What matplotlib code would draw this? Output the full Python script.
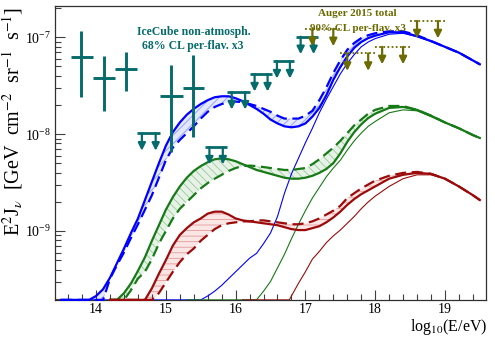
import numpy as np
import matplotlib
matplotlib.use('Agg')
import matplotlib.pyplot as plt
from matplotlib.ticker import MultipleLocator, FixedLocator, LogLocator, NullFormatter

plt.rcParams['font.family'] = 'Liberation Serif'
plt.rcParams['mathtext.fontset'] = 'stix'
plt.rcParams['hatch.linewidth'] = 0.6

#%% data (log10 E/eV, log10 flux)

FLOOR = -9.71

blue_x = [13.5, 13.9, 14.0, 14.1, 14.2, 14.3, 14.4, 14.5, 14.6, 14.7, 14.8, 14.9, 15.0, 15.1, 15.2,
          15.3, 15.4, 15.5, 15.6, 15.7, 15.8, 15.9, 16.0, 16.1, 16.2, 16.3, 16.4, 16.5, 16.6, 16.7,
          16.8, 16.9, 17.0, 17.1, 17.2, 17.3, 17.4, 17.5, 17.6, 17.7, 17.8, 17.9, 18.0, 18.2, 18.4,
          18.6, 18.8, 19.0, 19.2, 19.4, 19.5]
blue_solid = [-9.71, -9.71, -9.67, -9.60, -9.48, -9.33, -9.18, -9.02, -8.87, -8.68, -8.49, -8.30,
              -8.12, -7.98, -7.88, -7.80, -7.74, -7.69, -7.65, -7.62, -7.61, -7.61, -7.63, -7.66,
              -7.70, -7.74, -7.79, -7.85, -7.89, -7.92, -7.93, -7.92, -7.89, -7.82, -7.73, -7.60,
              -7.44, -7.31, -7.20, -7.11, -7.05, -7.01, -6.985, -6.95, -6.95, -6.99, -7.04, -7.10,
              -7.16, -7.24, -7.28]
blue_dash = [-9.71, -9.71, -9.71, -9.71, -9.49, -9.35, -9.22, -9.07, -8.93, -8.78, -8.63, -8.45,
             -8.27, -8.14, -8.06, -7.99, -7.92, -7.84, -7.77, -7.72, -7.69, -7.67, -7.665, -7.67,
             -7.69, -7.71, -7.74, -7.77, -7.81, -7.84, -7.84, -7.84, -7.81, -7.76, -7.65, -7.52,
             -7.37, -7.24, -7.13, -7.06, -7.01, -6.98, -6.96, -6.94, -6.94, -6.98, -7.04, -7.10,
             -7.16, -7.24, -7.28]
blue_thin_x = [13.5, 15.5, 15.6, 15.7, 15.8, 15.9, 16.0, 16.1, 16.2, 16.3, 16.4, 16.5, 16.6, 16.7,
               16.8, 16.9, 17.0, 17.1, 17.2, 17.3, 17.4, 17.5, 17.6, 17.7, 17.8, 17.9, 18.0, 18.2,
               18.4, 18.6, 18.8, 19.0, 19.2, 19.4, 19.5]
blue_thin = [-9.71, -9.71, -9.67, -9.62, -9.56, -9.49, -9.42, -9.35, -9.28, -9.23, -9.13, -9.02,
             -8.85, -8.61, -8.41, -8.25, -8.09, -7.94, -7.78, -7.64, -7.51, -7.38, -7.27, -7.18,
             -7.10, -7.05, -7.015, -6.97, -6.96, -6.995, -7.045, -7.10, -7.16, -7.24, -7.28]

green_x = [14.2, 14.3, 14.4, 14.5, 14.6, 14.7, 14.8, 14.9, 15.0, 15.1, 15.2, 15.3, 15.4, 15.5,
           15.6, 15.7, 15.8, 15.9, 16.0, 16.1, 16.2, 16.3, 16.4, 16.5, 16.6, 16.7, 16.8, 16.9,
           17.0, 17.1, 17.2, 17.3, 17.4, 17.5, 17.6, 17.7, 17.8, 17.9, 18.0, 18.2, 18.4, 18.6,
           18.8, 19.0, 19.2, 19.4, 19.5]
green_solid = [-9.71, -9.71, -9.64, -9.54, -9.41, -9.27, -9.10, -8.94, -8.78, -8.65, -8.54, -8.45,
               -8.38, -8.33, -8.29, -8.26, -8.25, -8.26, -8.28, -8.31, -8.34, -8.37, -8.39, -8.41,
               -8.43, -8.45, -8.46, -8.46, -8.45, -8.43, -8.40, -8.36, -8.30, -8.20, -8.08, -7.98,
               -7.90, -7.835, -7.79, -7.73, -7.72, -7.75, -7.81, -7.88, -7.94, -8.01, -8.04]
green_dash = [-9.71, -9.71, -9.71, -9.61, -9.49, -9.42, -9.29, -9.13, -9.00, -8.87, -8.77, -8.70,
              -8.63, -8.56, -8.505, -8.46, -8.42, -8.38, -8.35, -8.33, -8.325, -8.33, -8.34, -8.35,
              -8.36, -8.37, -8.37, -8.36, -8.35, -8.31, -8.26, -8.20, -8.14, -8.07, -7.99, -7.91,
              -7.85, -7.79, -7.75, -7.71, -7.71, -7.75, -7.81, -7.88, -7.94, -8.01, -8.04]
green_thin_x = [15.3, 16.3, 16.4, 16.5, 16.6, 16.7, 16.8, 16.9, 17.0, 17.1, 17.2, 17.3, 17.4, 17.5,
                17.6, 17.7, 17.8, 17.9, 18.0, 18.2, 18.4, 18.6, 18.8, 19.0, 19.2, 19.4, 19.5]
green_thin = [-9.71, -9.71, -9.62, -9.52, -9.38, -9.24, -9.08, -8.93, -8.79, -8.66, -8.55, -8.44,
              -8.35, -8.27, -8.165, -8.07, -7.99, -7.92, -7.87, -7.78, -7.75, -7.76, -7.82, -7.88,
              -7.94, -8.01, -8.04]

red_x = [14.2, 14.6, 14.7, 14.8, 14.9, 15.0, 15.1, 15.2, 15.3, 15.4, 15.5, 15.6, 15.7, 15.8, 15.9,
         16.0, 16.1, 16.2, 16.3, 16.4, 16.5, 16.6, 16.7, 16.8, 16.9, 17.0, 17.1, 17.2, 17.3, 17.4,
         17.5, 17.6, 17.7, 17.8, 17.9, 18.0, 18.2, 18.4, 18.6, 18.8, 19.0, 19.2, 19.4, 19.5]
red_solid = [-9.71, -9.71, -9.71, -9.59, -9.44, -9.30, -9.15, -9.04, -8.97, -8.91, -8.87, -8.82,
             -8.80, -8.80, -8.83, -8.87, -8.89, -8.90, -8.91, -8.92, -8.93, -8.94, -8.96, -8.98,
             -8.99, -8.99, -8.97, -8.95, -8.91, -8.86, -8.80, -8.73, -8.67, -8.62, -8.58, -8.54,
             -8.46, -8.42, -8.40, -8.41, -8.46, -8.54, -8.63, -8.68]
red_dash = [-9.71, -9.71, -9.71, -9.71, -9.64, -9.53, -9.42, -9.32, -9.24, -9.18, -9.10, -9.04,
            -8.98, -8.94, -8.92, -8.91, -8.90, -8.90, -8.89, -8.89, -8.90, -8.91, -8.92, -8.93,
            -8.93, -8.92, -8.90, -8.87, -8.83, -8.79, -8.74, -8.66, -8.61, -8.56, -8.52, -8.48,
            -8.43, -8.40, -8.39, -8.41, -8.46, -8.54, -8.63, -8.68]
red_thin_x = [16.1, 16.77, 16.8, 16.9, 17.0, 17.1, 17.2, 17.3, 17.4, 17.5, 17.6, 17.7, 17.8, 17.9,
              18.0, 18.2, 18.4, 18.6, 18.8, 19.0, 19.2, 19.4, 19.5]
red_thin = [-9.71, -9.71, -9.67, -9.54, -9.42, -9.29, -9.21, -9.12, -9.05, -8.99, -8.92, -8.85,
            -8.77, -8.70, -8.64, -8.54, -8.46, -8.42, -8.42, -8.46, -8.54, -8.63, -8.68]

# IceCube points (bin edges, centre, flux with errors)
ic_lo = [13.64, 13.95, 14.27, 14.92, 15.24]
ic_hi = [13.95, 14.27, 14.59, 15.24, 15.55]
ic_e = [13.785, 14.12, 14.43, 15.075, 15.39]
ic_y = [6.26e-8, 3.75e-8, 4.64e-8, 2.47e-8, 3.0e-8]
ic_up = [1.15e-7, 6.37e-8, 6.95e-8, 5.14e-8, 6.52e-8]
ic_dn = [2.39e-8, 1.74e-8, 2.79e-8, 6.58e-9, 9.37e-9]

# IceCube upper limits
icul_lo = [14.59, 15.56, 15.88, 16.21, 16.53, 16.87]
icul_hi = [14.92, 15.88, 16.20, 16.52, 16.84, 17.18]
icul_y = [1.02e-8, 7.35e-9, 2.71e-8, 4.16e-8, 5.66e-8, 1.01e-7]

# Auger upper limits
au_lo = [17.0, 17.5, 18.0, 18.5]
au_hi = [17.5, 18.0, 18.5, 19.0]
au_y = [1.22e-7, 6.79e-8, 7.94e-8, 1.47e-7]

#%% styles

BLUE = '#0000ff'
GREEN = '#167a16'
RED = '#9b0b0b'
TEAL = '#066b6b'
OLIVE = '#6b6b00'

fig = plt.figure(figsize=(4.95, 3.4), dpi=100)
ax = fig.add_axes([0.111, 0.118, 0.871, 0.864])


def flux(v):
    return 10.0**np.array(v)


def model(x, s, d, tx, t, col, face, hatch, hcol):
    ax.fill_between(x, flux(s), flux(d), facecolor=face, edgecolor=hcol, hatch=hatch,
                    linewidth=0, zorder=1)
    ax.plot(tx, flux(t), color=col, lw=0.8, zorder=2, clip_on=False)
    ax.plot(x, flux(s), color=col, lw=1.6, zorder=3, clip_on=False)
    ax.plot(x, flux(d), color=col, lw=1.6, dashes=(5, 2.5), zorder=3, clip_on=False)


model(blue_x, blue_solid, blue_dash, blue_thin_x, blue_thin, BLUE, '#e4e8ff', '////', '#8a98ff')
model(green_x, green_solid, green_dash, green_thin_x, green_thin, GREEN, '#e6f2e6', '\\\\\\\\', '#9cc79c')
model(red_x, red_solid, red_dash, red_thin_x, red_thin, RED, '#fbe6e6', '---', '#e29a9a')


def upper_limits(lo, hi, y, col, ls, z):
    for l, h, v in zip(lo, hi, y):
        ax.plot([l, h], [v, v], color=col, lw=2 if ls == '-' else 1.3, ls=ls,
                solid_capstyle='butt', zorder=z)
        for f in (0.2, 0.8):
            xa = l + f * (h - l)
            ax.annotate('', xy=(xa, v * 10**-0.18), xytext=(xa, v),
                        arrowprops=dict(arrowstyle='-|>', color=col, lw=1.6,
                                        mutation_scale=11, shrinkA=0, shrinkB=0),
                        zorder=z)


ic_e = np.array(ic_e)
ic_y = np.array(ic_y)
ax.errorbar(ic_e, ic_y,
            xerr=[ic_e - np.array(ic_lo), np.array(ic_hi) - ic_e],
            yerr=[ic_y - np.array(ic_dn), np.array(ic_up) - ic_y],
            fmt='none', ecolor=TEAL, elinewidth=2.1, capsize=0, zorder=5)
upper_limits(icul_lo, icul_hi, icul_y, TEAL, '-', 5)
upper_limits(au_lo, au_hi, au_y, OLIVE, (0, (1, 1.3)), 6)

ax.text(15.40, 10**-6.945, 'IceCube non-atmosph.', color=TEAL, fontsize=8.5,
        fontweight='bold', ha='center', va='center', zorder=7)
ax.text(15.39, 10**-7.093, '68% CL per-flav. x3', color=TEAL, fontsize=8.5,
        fontweight='bold', ha='center', va='center', zorder=7)
ax.text(17.75, 10**-6.756, 'Auger 2015 total', color=OLIVE, fontsize=8,
        fontweight='bold', ha='center', va='center', zorder=7)
ax.text(17.76, 10**-6.91, '90% CL per-flav. x3', color=OLIVE, fontsize=8,
        fontweight='bold', ha='center', va='center', zorder=7)

#%% axes

ax.set_xlim(13.41, 19.59)
ax.set_yscale('log')
ax.set_ylim(10**FLOOR, 10**-6.68)

ax.xaxis.set_major_locator(FixedLocator([14, 15, 16, 17, 18, 19]))
ax.xaxis.set_minor_locator(MultipleLocator(0.2))
ax.yaxis.set_major_locator(FixedLocator([1e-9, 1e-8, 1e-7]))
ax.yaxis.set_minor_locator(LogLocator(base=10, subs=np.arange(2, 10)))
ax.yaxis.set_minor_formatter(NullFormatter())

ax.tick_params(which='both', direction='in', top=False, right=False, width=0.8,
               labelsize=10, color='#404040')
ax.tick_params(which='major', length=7, pad=2.5)
ax.tick_params(which='minor', length=4)
for sp in ax.spines.values():
    sp.set_linewidth(0.9)
    sp.set_color('#303030')

fig.text(13 / 495, 1 - 7 / 340,
         r'E$^{2}$J$_{\nu}$  [GeV  cm$^{-2}$  sr$^{-1}$  s$^{-1}$]',
         rotation=90, ha='center', va='top', fontsize=14.5)
fig.text(487 / 495, 1 - 327 / 340, r'log$_{10}$(E/eV)', ha='right', va='center', fontsize=11.5)

fig.savefig('out.png', dpi=100)
